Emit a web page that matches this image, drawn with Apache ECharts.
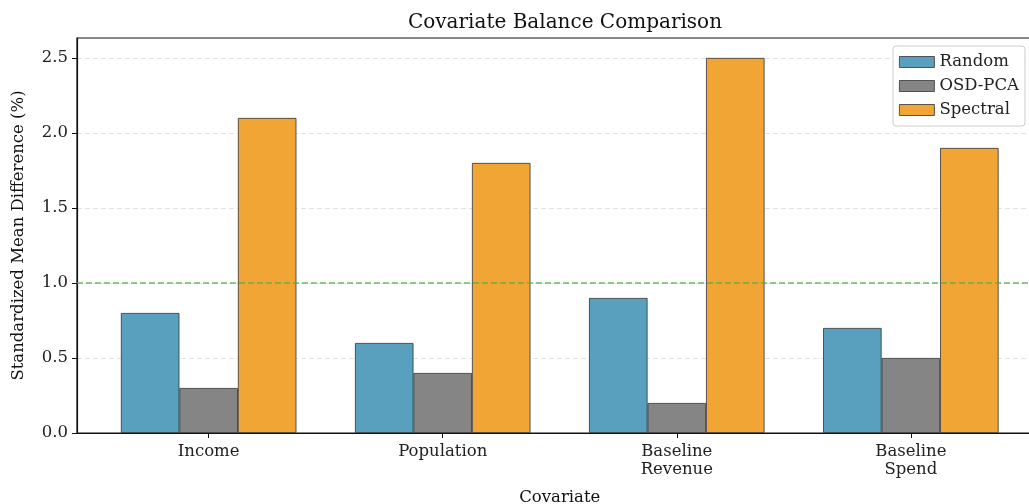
<!DOCTYPE html>
<html><head><meta charset="utf-8">
<script src="https://cdn.jsdelivr.net/npm/echarts@6/dist/echarts.min.js"></script>
<style>html,body{margin:0;padding:0;background:#fff}#c{width:1029px;height:504px}</style>
</head><body><div id="c"></div>
<script>
const categories = ['Income', 'Population', 'Baseline\nRevenue', 'Baseline\nSpend'];
const randomVals = [0.8, 0.6, 0.9, 0.7];
const osdVals = [0.3, 0.4, 0.2, 0.5];
const spectralVals = [2.1, 1.8, 2.5, 1.9];
const yTicks = [0, 0.5, 1.0, 1.5, 2.0, 2.5];
const threshold = 1.0;

const font = 'DejaVu Serif';
const fs = 16.5;
const chart = echarts.init(document.getElementById('c'));
const toPairs = arr => arr.map((v, i) => [i, v]);
const edge = {borderColor: '#333', borderWidth: 0.8};
chart.setOption({
  animation: false,
  textStyle: {fontFamily: font},
  title: {text: 'Covariate Balance Comparison', left: 560, top: 8, textAlign: 'center',
    textStyle: {fontFamily: font, fontSize: 20, fontWeight: 'normal', color: '#111'}},
  grid: {left: 77, top: 38, height: 395, width: 965.5, containLabel: false, outerBoundsMode: 'none',
    show: true, borderColor: '#111', borderWidth: 1.2, backgroundColor: 'transparent'},
  legend: {orient: 'vertical', left: 893, top: 46, itemWidth: 35, itemHeight: 11, itemGap: 4,
    padding: [6, 6, 6, 6], backgroundColor: '#fff', borderColor: '#ccc', borderWidth: 1, borderRadius: 3,
    icon: 'rect', itemStyle: {borderWidth: 0.8, borderColor: '#333'},
    textStyle: {fontFamily: font, fontSize: fs, color: '#222', lineHeight: 20},
    data: ['Random', 'OSD-PCA', 'Spectral']},
  xAxis: {type: 'value', min: -0.5625, max: 3.5625,
    name: 'Covariate', nameLocation: 'middle', nameGap: 56,
    nameTextStyle: {fontFamily: font, fontSize: fs, color: '#111'},
    axisLine: {show: true, onZero: false, lineStyle: {color: '#111', width: 1.2}},
    axisTick: {show: true, length: 5, lineStyle: {color: '#111'}, customValues: [0, 1, 2, 3]},
    axisLabel: {customValues: [0, 1, 2, 3], fontFamily: font, fontSize: fs, color: '#222', margin: 10, lineHeight: 18,
      formatter: v => categories[Math.round(v)] || ''},
    splitLine: {show: false}},
  yAxis: {type: 'value', min: 0, max: 2.633, interval: 0.5,
    name: 'Standardized Mean Difference (%)', nameLocation: 'middle', nameGap: 50,
    nameTextStyle: {fontFamily: font, fontSize: fs, color: '#111'},
    axisLine: {show: true, onZero: false, lineStyle: {color: '#111', width: 1.2}},
    axisTick: {show: true, length: 5, lineStyle: {color: '#111'}, customValues: yTicks},
    axisLabel: {customValues: yTicks, fontFamily: font, fontSize: fs, color: '#222', margin: 9, formatter: v => v.toFixed(1)},
    splitLine: {show: true, lineStyle: {color: '#e2e2e2', type: [5, 3], width: 1}}},
  series: [
    {name: 'Random', type: 'bar', data: toPairs(randomVals), barWidth: 58.5, barGap: '0%',
      itemStyle: Object.assign({color: '#58a0bd'}, edge),
      markLine: {silent: true, symbol: 'none', label: {show: false},
        lineStyle: {color: '#4fb04f', type: [6, 3], width: 1.5, opacity: 0.85},
        emphasis: {disabled: true},
        data: [{yAxis: threshold}]}},
    {name: 'OSD-PCA', type: 'bar', data: toPairs(osdVals), barWidth: 58.5, barGap: '0%',
      itemStyle: Object.assign({color: '#858585'}, edge)},
    {name: 'Spectral', type: 'bar', data: toPairs(spectralVals), barWidth: 58.5, barGap: '0%',
      itemStyle: Object.assign({color: '#f0a535'}, edge)}
  ]
});
</script></body></html>
